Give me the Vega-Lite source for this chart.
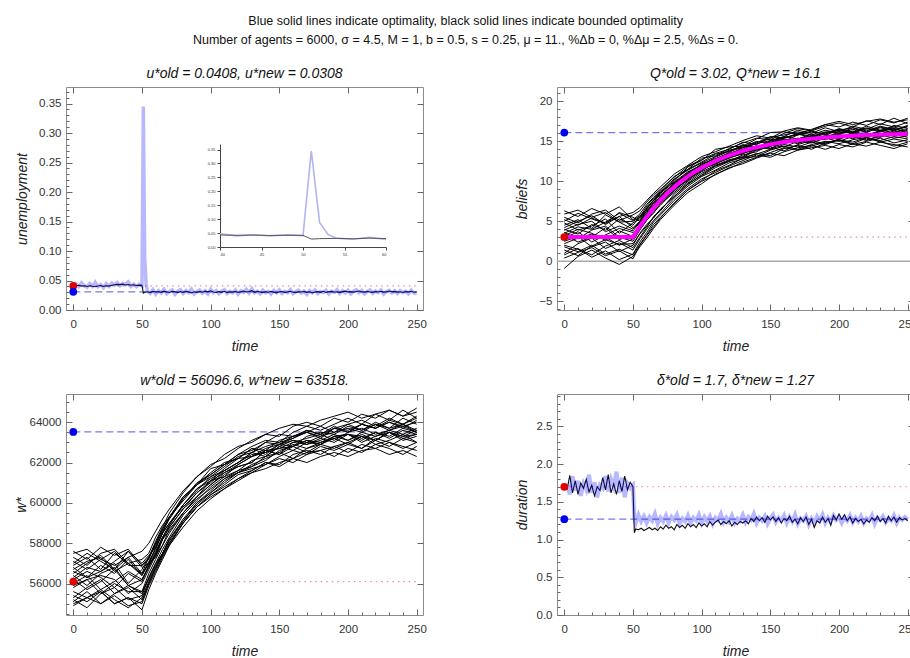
{
"$schema":"https://vega.github.io/schema/vega-lite/v6.json",
"background":"white",
"padding":{"left":13,"top":14,"right":0,"bottom":0},
"title":{"text":["Blue solid lines indicate optimality, black solid lines indicate bounded optimality","Number of agents = 6000, σ = 4.5, M = 1, b = 0.5, s = 0.25, μ = 11., %Δb = 0, %Δμ = 2.5, %Δs = 0."],"fontSize":12.5,"fontStyle":"normal","fontWeight":"normal","lineHeight":19,"offset":20,"anchor":"middle","color":"#111"},
"datasets":{
"r1":[{"k":"old","v":0.0408,"a":0,"b":250},{"k":"new","v":0.0308,"a":0,"b":250}],
"r2":[{"k":"old","v":3.02,"a":0,"b":250},{"k":"new","v":16.1,"a":0,"b":250}],
"r3":[{"k":"old","v":56096.6,"a":0,"b":250},{"k":"new","v":63518,"a":0,"b":250}],
"r4":[{"k":"old","v":1.7,"a":0,"b":250},{"k":"new","v":1.27,"a":0,"b":250}],
"z":[{"v":0}],
"ub":[{"t":0,"v":0.0415},{"t":2,"v":0.041},{"t":4,"v":0.042},{"t":6,"v":0.0405},{"t":8,"v":0.0412},{"t":10,"v":0.0398},{"t":12,"v":0.041},{"t":14,"v":0.0402},{"t":16,"v":0.0395},{"t":18,"v":0.0408},{"t":20,"v":0.0415},{"t":22,"v":0.04},{"t":24,"v":0.041},{"t":26,"v":0.0405},{"t":28,"v":0.042},{"t":30,"v":0.0428},{"t":32,"v":0.0435},{"t":34,"v":0.043},{"t":36,"v":0.0438},{"t":38,"v":0.0425},{"t":40,"v":0.0432},{"t":42,"v":0.042},{"t":44,"v":0.0428},{"t":46,"v":0.0415},{"t":48,"v":0.0422},{"t":50,"v":0.0418},{"t":51,"v":0.0285},{"t":52,"v":0.03},{"t":54,"v":0.031},{"t":56,"v":0.0295},{"t":58,"v":0.0318},{"t":60,"v":0.0305},{"t":62,"v":0.0312},{"t":64,"v":0.03},{"t":66,"v":0.032},{"t":68,"v":0.0305},{"t":70,"v":0.0298},{"t":72,"v":0.0315},{"t":74,"v":0.0308},{"t":76,"v":0.0295},{"t":78,"v":0.0312},{"t":80,"v":0.03},{"t":82,"v":0.0318},{"t":84,"v":0.0305},{"t":86,"v":0.029},{"t":88,"v":0.031},{"t":90,"v":0.0298},{"t":92,"v":0.0315},{"t":94,"v":0.0302},{"t":96,"v":0.032},{"t":98,"v":0.0308},{"t":100,"v":0.0325},{"t":102,"v":0.0305},{"t":104,"v":0.0298},{"t":106,"v":0.0312},{"t":108,"v":0.03},{"t":110,"v":0.0318},{"t":112,"v":0.0295},{"t":114,"v":0.0308},{"t":116,"v":0.0302},{"t":118,"v":0.0315},{"t":120,"v":0.0298},{"t":122,"v":0.031},{"t":124,"v":0.0322},{"t":126,"v":0.0305},{"t":128,"v":0.0312},{"t":130,"v":0.033},{"t":132,"v":0.03},{"t":134,"v":0.0315},{"t":136,"v":0.0305},{"t":138,"v":0.0295},{"t":140,"v":0.031},{"t":142,"v":0.03},{"t":144,"v":0.0316},{"t":146,"v":0.0302},{"t":148,"v":0.029},{"t":150,"v":0.0308},{"t":152,"v":0.0312},{"t":154,"v":0.0298},{"t":156,"v":0.0305},{"t":158,"v":0.0318},{"t":160,"v":0.03},{"t":162,"v":0.0292},{"t":164,"v":0.031},{"t":166,"v":0.0305},{"t":168,"v":0.0315},{"t":170,"v":0.0298},{"t":172,"v":0.0308},{"t":174,"v":0.029},{"t":176,"v":0.0305},{"t":178,"v":0.0312},{"t":180,"v":0.03},{"t":182,"v":0.0318},{"t":184,"v":0.0296},{"t":186,"v":0.0308},{"t":188,"v":0.0315},{"t":190,"v":0.0302},{"t":192,"v":0.031},{"t":194,"v":0.0295},{"t":196,"v":0.0312},{"t":198,"v":0.032},{"t":200,"v":0.0305},{"t":202,"v":0.0312},{"t":204,"v":0.03},{"t":206,"v":0.0315},{"t":208,"v":0.0322},{"t":210,"v":0.0308},{"t":212,"v":0.03},{"t":214,"v":0.0316},{"t":216,"v":0.0305},{"t":218,"v":0.0298},{"t":220,"v":0.0312},{"t":222,"v":0.0305},{"t":224,"v":0.0318},{"t":226,"v":0.03},{"t":228,"v":0.031},{"t":230,"v":0.0322},{"t":232,"v":0.0308},{"t":234,"v":0.0315},{"t":236,"v":0.0302},{"t":238,"v":0.031},{"t":240,"v":0.0298},{"t":242,"v":0.0312},{"t":244,"v":0.0305},{"t":246,"v":0.0318},{"t":248,"v":0.03},{"t":250,"v":0.0308}],
"uo":[{"t":0,"v":0.042},{"t":2,"v":0.044},{"t":4,"v":0.0395},{"t":6,"v":0.046},{"t":8,"v":0.041},{"t":10,"v":0.0385},{"t":12,"v":0.045},{"t":14,"v":0.04},{"t":16,"v":0.047},{"t":18,"v":0.0395},{"t":20,"v":0.043},{"t":22,"v":0.038},{"t":24,"v":0.0445},{"t":26,"v":0.04},{"t":28,"v":0.0455},{"t":30,"v":0.042},{"t":32,"v":0.0465},{"t":34,"v":0.041},{"t":36,"v":0.045},{"t":38,"v":0.043},{"t":40,"v":0.0475},{"t":42,"v":0.04},{"t":44,"v":0.044},{"t":46,"v":0.0395},{"t":48,"v":0.0435},{"t":50,"v":0.041},{"t":51,"v":0.345},{"t":52,"v":0.088},{"t":53,"v":0.045},{"t":54,"v":0.032},{"t":56,"v":0.028},{"t":58,"v":0.0345},{"t":60,"v":0.027},{"t":62,"v":0.033},{"t":64,"v":0.029},{"t":66,"v":0.035},{"t":68,"v":0.0275},{"t":70,"v":0.032},{"t":72,"v":0.034},{"t":74,"v":0.0265},{"t":76,"v":0.0315},{"t":78,"v":0.0345},{"t":80,"v":0.028},{"t":82,"v":0.033},{"t":84,"v":0.0295},{"t":86,"v":0.0355},{"t":88,"v":0.027},{"t":90,"v":0.031},{"t":92,"v":0.034},{"t":94,"v":0.0285},{"t":96,"v":0.0325},{"t":98,"v":0.027},{"t":100,"v":0.035},{"t":102,"v":0.0295},{"t":104,"v":0.033},{"t":106,"v":0.0275},{"t":108,"v":0.032},{"t":110,"v":0.0345},{"t":112,"v":0.028},{"t":114,"v":0.0315},{"t":116,"v":0.029},{"t":118,"v":0.034},{"t":120,"v":0.027},{"t":122,"v":0.0325},{"t":124,"v":0.03},{"t":126,"v":0.035},{"t":128,"v":0.0285},{"t":130,"v":0.036},{"t":132,"v":0.029},{"t":134,"v":0.032},{"t":136,"v":0.0275},{"t":138,"v":0.0335},{"t":140,"v":0.029},{"t":142,"v":0.0315},{"t":144,"v":0.027},{"t":146,"v":0.033},{"t":148,"v":0.0295},{"t":150,"v":0.034},{"t":152,"v":0.028},{"t":154,"v":0.0315},{"t":156,"v":0.029},{"t":158,"v":0.0345},{"t":160,"v":0.0275},{"t":162,"v":0.031},{"t":164,"v":0.0335},{"t":166,"v":0.0285},{"t":168,"v":0.032},{"t":170,"v":0.0265},{"t":172,"v":0.033},{"t":174,"v":0.0295},{"t":176,"v":0.034},{"t":178,"v":0.028},{"t":180,"v":0.0315},{"t":182,"v":0.0295},{"t":184,"v":0.0335},{"t":186,"v":0.027},{"t":188,"v":0.032},{"t":190,"v":0.03},{"t":192,"v":0.0345},{"t":194,"v":0.028},{"t":196,"v":0.0325},{"t":198,"v":0.029},{"t":200,"v":0.0335},{"t":202,"v":0.0275},{"t":204,"v":0.032},{"t":206,"v":0.0345},{"t":208,"v":0.029},{"t":210,"v":0.033},{"t":212,"v":0.0275},{"t":214,"v":0.0315},{"t":216,"v":0.034},{"t":218,"v":0.0285},{"t":220,"v":0.0325},{"t":222,"v":0.0295},{"t":224,"v":0.034},{"t":226,"v":0.027},{"t":228,"v":0.0315},{"t":230,"v":0.0335},{"t":232,"v":0.029},{"t":234,"v":0.0325},{"t":236,"v":0.028},{"t":238,"v":0.033},{"t":240,"v":0.0295},{"t":242,"v":0.032},{"t":244,"v":0.0275},{"t":246,"v":0.0335},{"t":248,"v":0.029},{"t":250,"v":0.028}],
"bm":[{"t":0,"v":3.02},{"t":50,"v":3.02},{"t":55,"v":4.37},{"t":60,"v":5.58},{"t":65,"v":6.67},{"t":70,"v":7.64},{"t":75,"v":8.51},{"t":80,"v":9.3},{"t":85,"v":10.0},{"t":90,"v":10.63},{"t":95,"v":11.19},{"t":100,"v":11.7},{"t":110,"v":12.56},{"t":120,"v":13.25},{"t":130,"v":13.81},{"t":140,"v":14.26},{"t":150,"v":14.62},{"t":160,"v":14.91},{"t":170,"v":15.14},{"t":180,"v":15.33},{"t":190,"v":15.48},{"t":200,"v":15.6},{"t":210,"v":15.7},{"t":220,"v":15.78},{"t":230,"v":15.84},{"t":240,"v":15.89},{"t":250,"v":15.93}],
"bl":[
{"k":1,"t":0,"v":4.5},{"k":1,"t":10,"v":5.2},{"k":1,"t":20,"v":4.1},{"k":1,"t":30,"v":5.8},{"k":1,"t":40,"v":4.9},{"k":1,"t":50,"v":4.0},{"k":1,"t":55,"v":4.9},{"k":1,"t":60,"v":6.4},{"k":1,"t":65,"v":7.3},{"k":1,"t":70,"v":8.6},{"k":1,"t":80,"v":10.0},{"k":1,"t":90,"v":11.8},{"k":1,"t":100,"v":12.6},{"k":1,"t":110,"v":14.0},{"k":1,"t":120,"v":14.3},{"k":1,"t":130,"v":14.4},{"k":1,"t":140,"v":15.3},{"k":1,"t":150,"v":16.1},{"k":1,"t":160,"v":16.2},{"k":1,"t":170,"v":15.9},{"k":1,"t":180,"v":16.5},{"k":1,"t":190,"v":17.1},{"k":1,"t":200,"v":17.5},{"k":1,"t":210,"v":17.1},{"k":1,"t":220,"v":17.5},{"k":1,"t":230,"v":17.8},{"k":1,"t":240,"v":17.4},{"k":1,"t":250,"v":17.7},
{"k":2,"t":0,"v":1.8},{"k":2,"t":10,"v":1.2},{"k":2,"t":20,"v":2.0},{"k":2,"t":30,"v":0.9},{"k":2,"t":40,"v":1.5},{"k":2,"t":50,"v":0.8},{"k":2,"t":55,"v":2.1},{"k":2,"t":60,"v":3.3},{"k":2,"t":65,"v":4.6},{"k":2,"t":70,"v":5.5},{"k":2,"t":80,"v":7.2},{"k":2,"t":90,"v":8.9},{"k":2,"t":100,"v":10.1},{"k":2,"t":110,"v":11.3},{"k":2,"t":120,"v":12.0},{"k":2,"t":130,"v":12.9},{"k":2,"t":140,"v":13.1},{"k":2,"t":150,"v":13.9},{"k":2,"t":160,"v":14.4},{"k":2,"t":170,"v":14.0},{"k":2,"t":180,"v":14.6},{"k":2,"t":190,"v":15.0},{"k":2,"t":200,"v":14.7},{"k":2,"t":210,"v":15.2},{"k":2,"t":220,"v":15.5},{"k":2,"t":230,"v":14.9},{"k":2,"t":240,"v":15.3},{"k":2,"t":250,"v":15.0},
{"k":3,"t":0,"v":3.2},{"k":3,"t":10,"v":4.0},{"k":3,"t":20,"v":3.5},{"k":3,"t":30,"v":2.6},{"k":3,"t":40,"v":3.8},{"k":3,"t":50,"v":3.1},{"k":3,"t":55,"v":4.6},{"k":3,"t":60,"v":5.9},{"k":3,"t":65,"v":7.0},{"k":3,"t":70,"v":8.1},{"k":3,"t":80,"v":9.8},{"k":3,"t":90,"v":10.9},{"k":3,"t":100,"v":12.2},{"k":3,"t":110,"v":12.8},{"k":3,"t":120,"v":13.6},{"k":3,"t":130,"v":14.5},{"k":3,"t":140,"v":14.1},{"k":3,"t":150,"v":15.0},{"k":3,"t":160,"v":15.6},{"k":3,"t":170,"v":15.3},{"k":3,"t":180,"v":15.9},{"k":3,"t":190,"v":15.4},{"k":3,"t":200,"v":16.2},{"k":3,"t":210,"v":16.0},{"k":3,"t":220,"v":15.6},{"k":3,"t":230,"v":16.4},{"k":3,"t":240,"v":16.1},{"k":3,"t":250,"v":16.5},
{"k":4,"t":0,"v":6.3},{"k":4,"t":10,"v":5.6},{"k":4,"t":20,"v":6.6},{"k":4,"t":30,"v":5.9},{"k":4,"t":40,"v":6.8},{"k":4,"t":50,"v":5.2},{"k":4,"t":55,"v":5.9},{"k":4,"t":60,"v":7.1},{"k":4,"t":65,"v":8.0},{"k":4,"t":70,"v":8.9},{"k":4,"t":80,"v":10.6},{"k":4,"t":90,"v":11.5},{"k":4,"t":100,"v":12.9},{"k":4,"t":110,"v":13.2},{"k":4,"t":120,"v":14.1},{"k":4,"t":130,"v":14.8},{"k":4,"t":140,"v":15.4},{"k":4,"t":150,"v":15.2},{"k":4,"t":160,"v":16.0},{"k":4,"t":170,"v":16.6},{"k":4,"t":180,"v":16.3},{"k":4,"t":190,"v":16.9},{"k":4,"t":200,"v":17.3},{"k":4,"t":210,"v":16.8},{"k":4,"t":220,"v":17.6},{"k":4,"t":230,"v":17.1},{"k":4,"t":240,"v":17.9},{"k":4,"t":250,"v":17.2},
{"k":5,"t":0,"v":2.5},{"k":5,"t":10,"v":3.1},{"k":5,"t":20,"v":1.8},{"k":5,"t":30,"v":2.4},{"k":5,"t":40,"v":1.2},{"k":5,"t":50,"v":2.0},{"k":5,"t":55,"v":3.5},{"k":5,"t":60,"v":4.6},{"k":5,"t":65,"v":5.4},{"k":5,"t":70,"v":6.5},{"k":5,"t":80,"v":8.1},{"k":5,"t":90,"v":9.6},{"k":5,"t":100,"v":10.8},{"k":5,"t":110,"v":11.9},{"k":5,"t":120,"v":12.6},{"k":5,"t":130,"v":13.0},{"k":5,"t":140,"v":13.9},{"k":5,"t":150,"v":14.3},{"k":5,"t":160,"v":13.8},{"k":5,"t":170,"v":14.6},{"k":5,"t":180,"v":15.1},{"k":5,"t":190,"v":14.7},{"k":5,"t":200,"v":15.3},{"k":5,"t":210,"v":15.8},{"k":5,"t":220,"v":15.2},{"k":5,"t":230,"v":15.6},{"k":5,"t":240,"v":16.0},{"k":5,"t":250,"v":15.5},
{"k":6,"t":0,"v":4.0},{"k":6,"t":10,"v":3.4},{"k":6,"t":20,"v":4.6},{"k":6,"t":30,"v":3.9},{"k":6,"t":40,"v":5.3},{"k":6,"t":50,"v":4.5},{"k":6,"t":55,"v":5.6},{"k":6,"t":60,"v":6.2},{"k":6,"t":65,"v":7.4},{"k":6,"t":70,"v":8.0},{"k":6,"t":80,"v":9.5},{"k":6,"t":90,"v":10.4},{"k":6,"t":100,"v":11.4},{"k":6,"t":110,"v":12.3},{"k":6,"t":120,"v":12.9},{"k":6,"t":130,"v":13.5},{"k":6,"t":140,"v":14.0},{"k":6,"t":150,"v":14.8},{"k":6,"t":160,"v":15.2},{"k":6,"t":170,"v":14.7},{"k":6,"t":180,"v":15.5},{"k":6,"t":190,"v":15.9},{"k":6,"t":200,"v":15.4},{"k":6,"t":210,"v":16.1},{"k":6,"t":220,"v":15.7},{"k":6,"t":230,"v":16.3},{"k":6,"t":240,"v":15.8},{"k":6,"t":250,"v":16.2},
{"k":7,"t":0,"v":-0.9},{"k":7,"t":10,"v":0.6},{"k":7,"t":20,"v":1.4},{"k":7,"t":30,"v":0.4},{"k":7,"t":40,"v":-0.4},{"k":7,"t":50,"v":0.6},{"k":7,"t":55,"v":1.8},{"k":7,"t":60,"v":2.9},{"k":7,"t":65,"v":4.1},{"k":7,"t":70,"v":5.2},{"k":7,"t":80,"v":7.0},{"k":7,"t":90,"v":8.6},{"k":7,"t":100,"v":9.7},{"k":7,"t":110,"v":10.9},{"k":7,"t":120,"v":11.6},{"k":7,"t":130,"v":12.4},{"k":7,"t":140,"v":13.0},{"k":7,"t":150,"v":13.6},{"k":7,"t":160,"v":14.2},{"k":7,"t":170,"v":13.9},{"k":7,"t":180,"v":14.4},{"k":7,"t":190,"v":14.9},{"k":7,"t":200,"v":15.1},{"k":7,"t":210,"v":14.6},{"k":7,"t":220,"v":15.0},{"k":7,"t":230,"v":15.4},{"k":7,"t":240,"v":14.8},{"k":7,"t":250,"v":15.2},
{"k":8,"t":0,"v":3.6},{"k":8,"t":10,"v":2.8},{"k":8,"t":20,"v":3.9},{"k":8,"t":30,"v":4.4},{"k":8,"t":40,"v":3.0},{"k":8,"t":50,"v":2.5},{"k":8,"t":55,"v":3.9},{"k":8,"t":60,"v":5.1},{"k":8,"t":65,"v":6.2},{"k":8,"t":70,"v":7.0},{"k":8,"t":80,"v":8.8},{"k":8,"t":90,"v":10.2},{"k":8,"t":100,"v":11.3},{"k":8,"t":110,"v":12.4},{"k":8,"t":120,"v":13.0},{"k":8,"t":130,"v":13.4},{"k":8,"t":140,"v":14.5},{"k":8,"t":150,"v":14.1},{"k":8,"t":160,"v":14.9},{"k":8,"t":170,"v":15.4},{"k":8,"t":180,"v":15.0},{"k":8,"t":190,"v":15.7},{"k":8,"t":200,"v":15.9},{"k":8,"t":210,"v":15.3},{"k":8,"t":220,"v":16.0},{"k":8,"t":230,"v":15.6},{"k":8,"t":240,"v":16.3},{"k":8,"t":250,"v":15.9},
{"k":9,"t":0,"v":5.5},{"k":9,"t":10,"v":4.8},{"k":9,"t":20,"v":5.9},{"k":9,"t":30,"v":6.4},{"k":9,"t":40,"v":5.1},{"k":9,"t":50,"v":5.8},{"k":9,"t":55,"v":6.3},{"k":9,"t":60,"v":7.4},{"k":9,"t":65,"v":8.3},{"k":9,"t":70,"v":9.0},{"k":9,"t":80,"v":10.5},{"k":9,"t":90,"v":11.9},{"k":9,"t":100,"v":12.7},{"k":9,"t":110,"v":13.5},{"k":9,"t":120,"v":14.0},{"k":9,"t":130,"v":14.9},{"k":9,"t":140,"v":14.6},{"k":9,"t":150,"v":15.5},{"k":9,"t":160,"v":15.8},{"k":9,"t":170,"v":16.2},{"k":9,"t":180,"v":15.8},{"k":9,"t":190,"v":16.4},{"k":9,"t":200,"v":16.0},{"k":9,"t":210,"v":16.7},{"k":9,"t":220,"v":16.3},{"k":9,"t":230,"v":16.9},{"k":9,"t":240,"v":16.5},{"k":9,"t":250,"v":16.8},
{"k":10,"t":0,"v":1.0},{"k":10,"t":10,"v":2.2},{"k":10,"t":20,"v":2.9},{"k":10,"t":30,"v":1.6},{"k":10,"t":40,"v":2.3},{"k":10,"t":50,"v":1.4},{"k":10,"t":55,"v":2.8},{"k":10,"t":60,"v":4.0},{"k":10,"t":65,"v":5.1},{"k":10,"t":70,"v":6.0},{"k":10,"t":80,"v":7.9},{"k":10,"t":90,"v":9.4},{"k":10,"t":100,"v":10.6},{"k":10,"t":110,"v":11.4},{"k":10,"t":120,"v":12.3},{"k":10,"t":130,"v":12.8},{"k":10,"t":140,"v":13.5},{"k":10,"t":150,"v":13.2},{"k":10,"t":160,"v":14.1},{"k":10,"t":170,"v":14.5},{"k":10,"t":180,"v":14.0},{"k":10,"t":190,"v":14.8},{"k":10,"t":200,"v":15.2},{"k":10,"t":210,"v":14.7},{"k":10,"t":220,"v":15.4},{"k":10,"t":230,"v":15.0},{"k":10,"t":240,"v":14.4},{"k":10,"t":250,"v":14.9},
{"k":11,"t":0,"v":2.9},{"k":11,"t":10,"v":3.7},{"k":11,"t":20,"v":2.4},{"k":11,"t":30,"v":3.3},{"k":11,"t":40,"v":4.1},{"k":11,"t":50,"v":3.6},{"k":11,"t":55,"v":4.2},{"k":11,"t":60,"v":5.5},{"k":11,"t":65,"v":6.5},{"k":11,"t":70,"v":7.4},{"k":11,"t":80,"v":9.1},{"k":11,"t":90,"v":10.1},{"k":11,"t":100,"v":11.6},{"k":11,"t":110,"v":12.1},{"k":11,"t":120,"v":13.1},{"k":11,"t":130,"v":13.9},{"k":11,"t":140,"v":14.4},{"k":11,"t":150,"v":14.0},{"k":11,"t":160,"v":15.0},{"k":11,"t":170,"v":15.3},{"k":11,"t":180,"v":15.7},{"k":11,"t":190,"v":15.2},{"k":11,"t":200,"v":15.9},{"k":11,"t":210,"v":16.3},{"k":11,"t":220,"v":15.8},{"k":11,"t":230,"v":16.2},{"k":11,"t":240,"v":16.6},{"k":11,"t":250,"v":16.0},
{"k":12,"t":0,"v":5.0},{"k":12,"t":10,"v":6.0},{"k":12,"t":20,"v":5.3},{"k":12,"t":30,"v":4.7},{"k":12,"t":40,"v":6.1},{"k":12,"t":50,"v":5.5},{"k":12,"t":55,"v":5.0},{"k":12,"t":60,"v":6.7},{"k":12,"t":65,"v":7.6},{"k":12,"t":70,"v":8.5},{"k":12,"t":80,"v":9.9},{"k":12,"t":90,"v":11.2},{"k":12,"t":100,"v":12.0},{"k":12,"t":110,"v":13.0},{"k":12,"t":120,"v":13.8},{"k":12,"t":130,"v":14.2},{"k":12,"t":140,"v":14.9},{"k":12,"t":150,"v":15.3},{"k":12,"t":160,"v":15.0},{"k":12,"t":170,"v":15.8},{"k":12,"t":180,"v":16.2},{"k":12,"t":190,"v":15.9},{"k":12,"t":200,"v":16.6},{"k":12,"t":210,"v":16.2},{"k":12,"t":220,"v":16.9},{"k":12,"t":230,"v":16.4},{"k":12,"t":240,"v":16.8},{"k":12,"t":250,"v":16.3},
{"k":13,"t":0,"v":2.0},{"k":13,"t":10,"v":1.5},{"k":13,"t":20,"v":0.8},{"k":13,"t":30,"v":1.9},{"k":13,"t":40,"v":2.6},{"k":13,"t":50,"v":1.7},{"k":13,"t":55,"v":3.0},{"k":13,"t":60,"v":4.2},{"k":13,"t":65,"v":5.6},{"k":13,"t":70,"v":6.3},{"k":13,"t":80,"v":8.4},{"k":13,"t":90,"v":9.8},{"k":13,"t":100,"v":11.0},{"k":13,"t":110,"v":11.9},{"k":13,"t":120,"v":12.5},{"k":13,"t":130,"v":13.3},{"k":13,"t":140,"v":13.7},{"k":13,"t":150,"v":14.6},{"k":13,"t":160,"v":14.3},{"k":13,"t":170,"v":15.0},{"k":13,"t":180,"v":14.8},{"k":13,"t":190,"v":15.4},{"k":13,"t":200,"v":15.0},{"k":13,"t":210,"v":15.6},{"k":13,"t":220,"v":15.1},{"k":13,"t":230,"v":15.8},{"k":13,"t":240,"v":15.4},{"k":13,"t":250,"v":15.7},
{"k":14,"t":0,"v":3.9},{"k":14,"t":10,"v":4.6},{"k":14,"t":20,"v":5.0},{"k":14,"t":30,"v":3.7},{"k":14,"t":40,"v":4.4},{"k":14,"t":50,"v":3.8},{"k":14,"t":55,"v":4.8},{"k":14,"t":60,"v":6.0},{"k":14,"t":65,"v":6.9},{"k":14,"t":70,"v":8.2},{"k":14,"t":80,"v":9.6},{"k":14,"t":90,"v":11.0},{"k":14,"t":100,"v":11.9},{"k":14,"t":110,"v":12.8},{"k":14,"t":120,"v":13.5},{"k":14,"t":130,"v":14.0},{"k":14,"t":140,"v":14.8},{"k":14,"t":150,"v":15.6},{"k":14,"t":160,"v":15.4},{"k":14,"t":170,"v":16.0},{"k":14,"t":180,"v":15.6},{"k":14,"t":190,"v":16.1},{"k":14,"t":200,"v":16.5},{"k":14,"t":210,"v":16.0},{"k":14,"t":220,"v":16.6},{"k":14,"t":230,"v":16.2},{"k":14,"t":240,"v":17.0},{"k":14,"t":250,"v":16.6},
{"k":15,"t":0,"v":0.8},{"k":15,"t":10,"v":1.6},{"k":15,"t":20,"v":0.5},{"k":15,"t":30,"v":1.3},{"k":15,"t":40,"v":0.2},{"k":15,"t":50,"v":0.9},{"k":15,"t":55,"v":2.4},{"k":15,"t":60,"v":3.6},{"k":15,"t":65,"v":4.9},{"k":15,"t":70,"v":5.8},{"k":15,"t":80,"v":7.6},{"k":15,"t":90,"v":9.1},{"k":15,"t":100,"v":10.3},{"k":15,"t":110,"v":11.1},{"k":15,"t":120,"v":11.9},{"k":15,"t":130,"v":12.6},{"k":15,"t":140,"v":13.3},{"k":15,"t":150,"v":13.0},{"k":15,"t":160,"v":13.7},{"k":15,"t":170,"v":14.2},{"k":15,"t":180,"v":14.5},{"k":15,"t":190,"v":14.0},{"k":15,"t":200,"v":14.6},{"k":15,"t":210,"v":14.3},{"k":15,"t":220,"v":14.9},{"k":15,"t":230,"v":14.5},{"k":15,"t":240,"v":14.1},{"k":15,"t":250,"v":14.7},
{"k":16,"t":0,"v":4.8},{"k":16,"t":10,"v":3.9},{"k":16,"t":20,"v":4.4},{"k":16,"t":30,"v":5.3},{"k":16,"t":40,"v":3.5},{"k":16,"t":50,"v":4.8},{"k":16,"t":55,"v":5.3},{"k":16,"t":60,"v":6.6},{"k":16,"t":65,"v":7.7},{"k":16,"t":70,"v":8.6},{"k":16,"t":80,"v":10.2},{"k":16,"t":90,"v":11.5},{"k":16,"t":100,"v":12.4},{"k":16,"t":110,"v":13.4},{"k":16,"t":120,"v":13.7},{"k":16,"t":130,"v":14.6},{"k":16,"t":140,"v":14.2},{"k":16,"t":150,"v":15.1},{"k":16,"t":160,"v":15.6},{"k":16,"t":170,"v":16.4},{"k":16,"t":180,"v":16.0},{"k":16,"t":190,"v":16.7},{"k":16,"t":200,"v":16.2},{"k":16,"t":210,"v":16.9},{"k":16,"t":220,"v":16.5},{"k":16,"t":230,"v":17.2},{"k":16,"t":240,"v":16.8},{"k":16,"t":250,"v":17.4},
{"k":17,"t":0,"v":3.3},{"k":17,"t":10,"v":2.4},{"k":17,"t":20,"v":3.0},{"k":17,"t":30,"v":4.2},{"k":17,"t":40,"v":2.7},{"k":17,"t":50,"v":3.3},{"k":17,"t":55,"v":4.5},{"k":17,"t":60,"v":5.4},{"k":17,"t":65,"v":6.4},{"k":17,"t":70,"v":7.3},{"k":17,"t":80,"v":8.9},{"k":17,"t":90,"v":10.3},{"k":17,"t":100,"v":11.5},{"k":17,"t":110,"v":12.2},{"k":17,"t":120,"v":12.9},{"k":17,"t":130,"v":13.6},{"k":17,"t":140,"v":13.9},{"k":17,"t":150,"v":14.4},{"k":17,"t":160,"v":15.0},{"k":17,"t":170,"v":14.8},{"k":17,"t":180,"v":15.2},{"k":17,"t":190,"v":15.7},{"k":17,"t":200,"v":15.3},{"k":17,"t":210,"v":15.9},{"k":17,"t":220,"v":15.5},{"k":17,"t":230,"v":16.0},{"k":17,"t":240,"v":15.7},{"k":17,"t":250,"v":16.1},
{"k":18,"t":0,"v":5.9},{"k":18,"t":10,"v":6.4},{"k":18,"t":20,"v":5.5},{"k":18,"t":30,"v":6.1},{"k":18,"t":40,"v":4.9},{"k":18,"t":50,"v":5.0},{"k":18,"t":55,"v":5.5},{"k":18,"t":60,"v":6.9},{"k":18,"t":65,"v":7.9},{"k":18,"t":70,"v":8.7},{"k":18,"t":80,"v":10.3},{"k":18,"t":90,"v":11.4},{"k":18,"t":100,"v":12.3},{"k":18,"t":110,"v":13.1},{"k":18,"t":120,"v":13.9},{"k":18,"t":130,"v":14.3},{"k":18,"t":140,"v":15.0},{"k":18,"t":150,"v":14.8},{"k":18,"t":160,"v":15.5},{"k":18,"t":170,"v":15.8},{"k":18,"t":180,"v":16.3},{"k":18,"t":190,"v":15.8},{"k":18,"t":200,"v":16.4},{"k":18,"t":210,"v":16.7},{"k":18,"t":220,"v":16.1},{"k":18,"t":230,"v":16.8},{"k":18,"t":240,"v":16.4},{"k":18,"t":250,"v":17.0},
{"k":19,"t":0,"v":1.4},{"k":19,"t":10,"v":0.7},{"k":19,"t":20,"v":1.9},{"k":19,"t":30,"v":2.7},{"k":19,"t":40,"v":2.1},{"k":19,"t":50,"v":2.2},{"k":19,"t":55,"v":3.4},{"k":19,"t":60,"v":4.4},{"k":19,"t":65,"v":5.5},{"k":19,"t":70,"v":6.5},{"k":19,"t":80,"v":8.1},{"k":19,"t":90,"v":9.7},{"k":19,"t":100,"v":10.7},{"k":19,"t":110,"v":11.7},{"k":19,"t":120,"v":12.5},{"k":19,"t":130,"v":13.0},{"k":19,"t":140,"v":13.4},{"k":19,"t":150,"v":14.0},{"k":19,"t":160,"v":14.6},{"k":19,"t":170,"v":14.3},{"k":19,"t":180,"v":14.9},{"k":19,"t":190,"v":14.6},{"k":19,"t":200,"v":15.2},{"k":19,"t":210,"v":14.9},{"k":19,"t":220,"v":15.5},{"k":19,"t":230,"v":15.1},{"k":19,"t":240,"v":15.6},{"k":19,"t":250,"v":15.3},
{"k":20,"t":0,"v":4.2},{"k":20,"t":10,"v":5.0},{"k":20,"t":20,"v":5.7},{"k":20,"t":30,"v":4.6},{"k":20,"t":40,"v":5.6},{"k":20,"t":50,"v":4.2},{"k":20,"t":55,"v":5.0},{"k":20,"t":60,"v":6.1},{"k":20,"t":65,"v":7.2},{"k":20,"t":70,"v":8.1},{"k":20,"t":80,"v":9.8},{"k":20,"t":90,"v":11.1},{"k":20,"t":100,"v":12.1},{"k":20,"t":110,"v":12.8},{"k":20,"t":120,"v":13.4},{"k":20,"t":130,"v":14.2},{"k":20,"t":140,"v":14.7},{"k":20,"t":150,"v":15.1},{"k":20,"t":160,"v":15.4},{"k":20,"t":170,"v":15.9},{"k":20,"t":180,"v":15.5},{"k":20,"t":190,"v":16.2},{"k":20,"t":200,"v":16.0},{"k":20,"t":210,"v":16.5},{"k":20,"t":220,"v":16.2},{"k":20,"t":230,"v":16.7},{"k":20,"t":240,"v":16.3},{"k":20,"t":250,"v":16.9},
{"k":21,"t":0,"v":2.2},{"k":21,"t":10,"v":2.9},{"k":21,"t":20,"v":3.4},{"k":21,"t":30,"v":3.0},{"k":21,"t":40,"v":2.0},{"k":21,"t":50,"v":2.8},{"k":21,"t":55,"v":4.0},{"k":21,"t":60,"v":5.2},{"k":21,"t":65,"v":6.0},{"k":21,"t":70,"v":7.2},{"k":21,"t":80,"v":8.6},{"k":21,"t":90,"v":10.0},{"k":21,"t":100,"v":11.2},{"k":21,"t":110,"v":12.0},{"k":21,"t":120,"v":12.7},{"k":21,"t":130,"v":13.1},{"k":21,"t":140,"v":14.1},{"k":21,"t":150,"v":14.4},{"k":21,"t":160,"v":14.7},{"k":21,"t":170,"v":15.2},{"k":21,"t":180,"v":15.0},{"k":21,"t":190,"v":15.6},{"k":21,"t":200,"v":15.8},{"k":21,"t":210,"v":15.4},{"k":21,"t":220,"v":15.9},{"k":21,"t":230,"v":15.5},{"k":21,"t":240,"v":16.1},{"k":21,"t":250,"v":15.8},
{"k":22,"t":0,"v":3.5},{"k":22,"t":10,"v":4.3},{"k":22,"t":20,"v":4.0},{"k":22,"t":30,"v":4.9},{"k":22,"t":40,"v":6.0},{"k":22,"t":50,"v":5.1},{"k":22,"t":55,"v":5.7},{"k":22,"t":60,"v":6.5},{"k":22,"t":65,"v":7.6},{"k":22,"t":70,"v":8.3},{"k":22,"t":80,"v":9.7},{"k":22,"t":90,"v":10.8},{"k":22,"t":100,"v":11.8},{"k":22,"t":110,"v":12.7},{"k":22,"t":120,"v":13.3},{"k":22,"t":130,"v":14.0},{"k":22,"t":140,"v":14.2},{"k":22,"t":150,"v":14.9},{"k":22,"t":160,"v":15.3},{"k":22,"t":170,"v":15.1},{"k":22,"t":180,"v":15.7},{"k":22,"t":190,"v":16.0},{"k":22,"t":200,"v":16.4},{"k":22,"t":210,"v":16.1},{"k":22,"t":220,"v":16.7},{"k":22,"t":230,"v":16.3},{"k":22,"t":240,"v":16.6},{"k":22,"t":250,"v":16.1},
{"k":23,"t":0,"v":0.4},{"k":23,"t":10,"v":1.1},{"k":23,"t":20,"v":1.7},{"k":23,"t":30,"v":0.7},{"k":23,"t":40,"v":1.3},{"k":23,"t":50,"v":0.3},{"k":23,"t":55,"v":2.0},{"k":23,"t":60,"v":3.2},{"k":23,"t":65,"v":4.3},{"k":23,"t":70,"v":5.4},{"k":23,"t":80,"v":7.3},{"k":23,"t":90,"v":8.9},{"k":23,"t":100,"v":10.0},{"k":23,"t":110,"v":10.8},{"k":23,"t":120,"v":11.7},{"k":23,"t":130,"v":12.2},{"k":23,"t":140,"v":12.9},{"k":23,"t":150,"v":13.5},{"k":23,"t":160,"v":13.2},{"k":23,"t":170,"v":13.9},{"k":23,"t":180,"v":14.2},{"k":23,"t":190,"v":14.5},{"k":23,"t":200,"v":14.1},{"k":23,"t":210,"v":14.7},{"k":23,"t":220,"v":14.4},{"k":23,"t":230,"v":14.9},{"k":23,"t":240,"v":14.6},{"k":23,"t":250,"v":14.3},
{"k":24,"t":0,"v":5.2},{"k":24,"t":10,"v":4.5},{"k":24,"t":20,"v":5.4},{"k":24,"t":30,"v":4.8},{"k":24,"t":40,"v":5.6},{"k":24,"t":50,"v":6.1},{"k":24,"t":55,"v":6.7},{"k":24,"t":60,"v":7.6},{"k":24,"t":65,"v":8.5},{"k":24,"t":70,"v":9.3},{"k":24,"t":80,"v":10.9},{"k":24,"t":90,"v":12.0},{"k":24,"t":100,"v":13.1},{"k":24,"t":110,"v":13.7},{"k":24,"t":120,"v":14.4},{"k":24,"t":130,"v":15.1},{"k":24,"t":140,"v":15.7},{"k":24,"t":150,"v":15.4},{"k":24,"t":160,"v":16.3},{"k":24,"t":170,"v":16.7},{"k":24,"t":180,"v":16.4},{"k":24,"t":190,"v":17.1},{"k":24,"t":200,"v":16.8},{"k":24,"t":210,"v":17.4},{"k":24,"t":220,"v":17.0},{"k":24,"t":230,"v":17.7},{"k":24,"t":240,"v":17.3},{"k":24,"t":250,"v":17.9}],
"wl":[
{"k":1,"t":0,"v":56900},{"k":1,"t":10,"v":57300},{"k":1,"t":20,"v":56700},{"k":1,"t":30,"v":57500},{"k":1,"t":40,"v":57000},{"k":1,"t":50,"v":56500},{"k":1,"t":55,"v":57300},{"k":1,"t":60,"v":58100},{"k":1,"t":65,"v":58800},{"k":1,"t":70,"v":59500},{"k":1,"t":80,"v":60500},{"k":1,"t":90,"v":61300},{"k":1,"t":100,"v":61800},{"k":1,"t":110,"v":62400},{"k":1,"t":120,"v":62800},{"k":1,"t":130,"v":63000},{"k":1,"t":140,"v":63400},{"k":1,"t":150,"v":63700},{"k":1,"t":160,"v":63900},{"k":1,"t":170,"v":63800},{"k":1,"t":180,"v":64100},{"k":1,"t":190,"v":64300},{"k":1,"t":200,"v":64500},{"k":1,"t":210,"v":64200},{"k":1,"t":220,"v":64400},{"k":1,"t":230,"v":64600},{"k":1,"t":240,"v":64300},{"k":1,"t":250,"v":64500},
{"k":2,"t":0,"v":55400},{"k":2,"t":10,"v":55100},{"k":2,"t":20,"v":55600},{"k":2,"t":30,"v":55000},{"k":2,"t":40,"v":55300},{"k":2,"t":50,"v":55000},{"k":2,"t":55,"v":55900},{"k":2,"t":60,"v":56600},{"k":2,"t":65,"v":57300},{"k":2,"t":70,"v":57900},{"k":2,"t":80,"v":58800},{"k":2,"t":90,"v":59600},{"k":2,"t":100,"v":60200},{"k":2,"t":110,"v":60700},{"k":2,"t":120,"v":61100},{"k":2,"t":130,"v":61500},{"k":2,"t":140,"v":61700},{"k":2,"t":150,"v":62000},{"k":2,"t":160,"v":62200},{"k":2,"t":170,"v":62000},{"k":2,"t":180,"v":62300},{"k":2,"t":190,"v":62500},{"k":2,"t":200,"v":62300},{"k":2,"t":210,"v":62600},{"k":2,"t":220,"v":62700},{"k":2,"t":230,"v":62400},{"k":2,"t":240,"v":62600},{"k":2,"t":250,"v":62300},
{"k":3,"t":0,"v":56200},{"k":3,"t":10,"v":56600},{"k":3,"t":20,"v":56300},{"k":3,"t":30,"v":55800},{"k":3,"t":40,"v":56500},{"k":3,"t":50,"v":56100},{"k":3,"t":55,"v":56900},{"k":3,"t":60,"v":57500},{"k":3,"t":65,"v":58300},{"k":3,"t":70,"v":58900},{"k":3,"t":80,"v":59900},{"k":3,"t":90,"v":60600},{"k":3,"t":100,"v":61300},{"k":3,"t":110,"v":61600},{"k":3,"t":120,"v":62000},{"k":3,"t":130,"v":62500},{"k":3,"t":140,"v":62300},{"k":3,"t":150,"v":62800},{"k":3,"t":160,"v":63100},{"k":3,"t":170,"v":62900},{"k":3,"t":180,"v":63200},{"k":3,"t":190,"v":63000},{"k":3,"t":200,"v":63400},{"k":3,"t":210,"v":63300},{"k":3,"t":220,"v":63100},{"k":3,"t":230,"v":63500},{"k":3,"t":240,"v":63300},{"k":3,"t":250,"v":63600},
{"k":4,"t":0,"v":57600},{"k":4,"t":10,"v":57200},{"k":4,"t":20,"v":57800},{"k":4,"t":30,"v":57400},{"k":4,"t":40,"v":57700},{"k":4,"t":50,"v":56900},{"k":4,"t":55,"v":57200},{"k":4,"t":60,"v":58000},{"k":4,"t":65,"v":58700},{"k":4,"t":70,"v":59300},{"k":4,"t":80,"v":60300},{"k":4,"t":90,"v":60900},{"k":4,"t":100,"v":61700},{"k":4,"t":110,"v":61900},{"k":4,"t":120,"v":62400},{"k":4,"t":130,"v":62800},{"k":4,"t":140,"v":63100},{"k":4,"t":150,"v":63000},{"k":4,"t":160,"v":63500},{"k":4,"t":170,"v":63800},{"k":4,"t":180,"v":63600},{"k":4,"t":190,"v":63900},{"k":4,"t":200,"v":64200},{"k":4,"t":210,"v":63900},{"k":4,"t":220,"v":64400},{"k":4,"t":230,"v":64100},{"k":4,"t":240,"v":64600},{"k":4,"t":250,"v":64200},
{"k":5,"t":0,"v":55900},{"k":5,"t":10,"v":56200},{"k":5,"t":20,"v":55500},{"k":5,"t":30,"v":55800},{"k":5,"t":40,"v":55200},{"k":5,"t":50,"v":55400},{"k":5,"t":55,"v":56300},{"k":5,"t":60,"v":57000},{"k":5,"t":65,"v":57500},{"k":5,"t":70,"v":58200},{"k":5,"t":80,"v":59100},{"k":5,"t":90,"v":60000},{"k":5,"t":100,"v":60600},{"k":5,"t":110,"v":61200},{"k":5,"t":120,"v":61600},{"k":5,"t":130,"v":61800},{"k":5,"t":140,"v":62300},{"k":5,"t":150,"v":62500},{"k":5,"t":160,"v":62200},{"k":5,"t":170,"v":62700},{"k":5,"t":180,"v":62900},{"k":5,"t":190,"v":62700},{"k":5,"t":200,"v":63000},{"k":5,"t":210,"v":63300},{"k":5,"t":220,"v":62900},{"k":5,"t":230,"v":63100},{"k":5,"t":240,"v":63400},{"k":5,"t":250,"v":63000},
{"k":6,"t":0,"v":56600},{"k":6,"t":10,"v":56300},{"k":6,"t":20,"v":56900},{"k":6,"t":30,"v":56500},{"k":6,"t":40,"v":57200},{"k":6,"t":50,"v":56400},{"k":6,"t":55,"v":57000},{"k":6,"t":60,"v":57300},{"k":6,"t":65,"v":58200},{"k":6,"t":70,"v":58600},{"k":6,"t":80,"v":59500},{"k":6,"t":90,"v":60200},{"k":6,"t":100,"v":60700},{"k":6,"t":110,"v":61200},{"k":6,"t":120,"v":61500},{"k":6,"t":130,"v":61800},{"k":6,"t":140,"v":62100},{"k":6,"t":150,"v":62600},{"k":6,"t":160,"v":62800},{"k":6,"t":170,"v":62500},{"k":6,"t":180,"v":62900},{"k":6,"t":190,"v":63200},{"k":6,"t":200,"v":62900},{"k":6,"t":210,"v":63300},{"k":6,"t":220,"v":63100},{"k":6,"t":230,"v":63500},{"k":6,"t":240,"v":63200},{"k":6,"t":250,"v":63400},
{"k":7,"t":0,"v":55000},{"k":7,"t":10,"v":55300},{"k":7,"t":20,"v":55700},{"k":7,"t":30,"v":55200},{"k":7,"t":40,"v":54800},{"k":7,"t":50,"v":55300},{"k":7,"t":55,"v":56100},{"k":7,"t":60,"v":56800},{"k":7,"t":65,"v":57500},{"k":7,"t":70,"v":58200},{"k":7,"t":80,"v":59200},{"k":7,"t":90,"v":60000},{"k":7,"t":100,"v":60500},{"k":7,"t":110,"v":61100},{"k":7,"t":120,"v":61500},{"k":7,"t":130,"v":61900},{"k":7,"t":140,"v":62200},{"k":7,"t":150,"v":62500},{"k":7,"t":160,"v":62900},{"k":7,"t":170,"v":62700},{"k":7,"t":180,"v":63000},{"k":7,"t":190,"v":63200},{"k":7,"t":200,"v":63400},{"k":7,"t":210,"v":63000},{"k":7,"t":220,"v":63300},{"k":7,"t":230,"v":63500},{"k":7,"t":240,"v":63100},{"k":7,"t":250,"v":63300},
{"k":8,"t":0,"v":56400},{"k":8,"t":10,"v":55900},{"k":8,"t":20,"v":56500},{"k":8,"t":30,"v":56800},{"k":8,"t":40,"v":55900},{"k":8,"t":50,"v":55600},{"k":8,"t":55,"v":56500},{"k":8,"t":60,"v":57200},{"k":8,"t":65,"v":57900},{"k":8,"t":70,"v":58500},{"k":8,"t":80,"v":59500},{"k":8,"t":90,"v":60300},{"k":8,"t":100,"v":60900},{"k":8,"t":110,"v":61500},{"k":8,"t":120,"v":61800},{"k":8,"t":130,"v":62000},{"k":8,"t":140,"v":62600},{"k":8,"t":150,"v":62400},{"k":8,"t":160,"v":62800},{"k":8,"t":170,"v":63100},{"k":8,"t":180,"v":62900},{"k":8,"t":190,"v":63300},{"k":8,"t":200,"v":63400},{"k":8,"t":210,"v":63100},{"k":8,"t":220,"v":63500},{"k":8,"t":230,"v":63300},{"k":8,"t":240,"v":63700},{"k":8,"t":250,"v":63500},
{"k":9,"t":0,"v":57300},{"k":9,"t":10,"v":56900},{"k":9,"t":20,"v":57500},{"k":9,"t":30,"v":57700},{"k":9,"t":40,"v":57000},{"k":9,"t":50,"v":57200},{"k":9,"t":55,"v":57500},{"k":9,"t":60,"v":58300},{"k":9,"t":65,"v":58900},{"k":9,"t":70,"v":59300},{"k":9,"t":80,"v":60200},{"k":9,"t":90,"v":61000},{"k":9,"t":100,"v":61400},{"k":9,"t":110,"v":61900},{"k":9,"t":120,"v":62200},{"k":9,"t":130,"v":62700},{"k":9,"t":140,"v":62600},{"k":9,"t":150,"v":63100},{"k":9,"t":160,"v":63300},{"k":9,"t":170,"v":63500},{"k":9,"t":180,"v":63300},{"k":9,"t":190,"v":63700},{"k":9,"t":200,"v":63500},{"k":9,"t":210,"v":63900},{"k":9,"t":220,"v":63700},{"k":9,"t":230,"v":64000},{"k":9,"t":240,"v":63800},{"k":9,"t":250,"v":64000},
{"k":10,"t":0,"v":55300},{"k":10,"t":10,"v":55800},{"k":10,"t":20,"v":56200},{"k":10,"t":30,"v":55500},{"k":10,"t":40,"v":55800},{"k":10,"t":50,"v":55200},{"k":10,"t":55,"v":56000},{"k":10,"t":60,"v":56800},{"k":10,"t":65,"v":57400},{"k":10,"t":70,"v":58000},{"k":10,"t":80,"v":59000},{"k":10,"t":90,"v":59800},{"k":10,"t":100,"v":60400},{"k":10,"t":110,"v":60900},{"k":10,"t":120,"v":61400},{"k":10,"t":130,"v":61600},{"k":10,"t":140,"v":62000},{"k":10,"t":150,"v":61900},{"k":10,"t":160,"v":62400},{"k":10,"t":170,"v":62600},{"k":10,"t":180,"v":62400},{"k":10,"t":190,"v":62800},{"k":10,"t":200,"v":63000},{"k":10,"t":210,"v":62700},{"k":10,"t":220,"v":63200},{"k":10,"t":230,"v":63000},{"k":10,"t":240,"v":62700},{"k":10,"t":250,"v":63000},
{"k":11,"t":0,"v":56000},{"k":11,"t":10,"v":56400},{"k":11,"t":20,"v":55700},{"k":11,"t":30,"v":56100},{"k":11,"t":40,"v":56600},{"k":11,"t":50,"v":56200},{"k":11,"t":55,"v":56800},{"k":11,"t":60,"v":57500},{"k":11,"t":65,"v":58200},{"k":11,"t":70,"v":58800},{"k":11,"t":80,"v":59700},{"k":11,"t":90,"v":60300},{"k":11,"t":100,"v":61100},{"k":11,"t":110,"v":61300},{"k":11,"t":120,"v":61900},{"k":11,"t":130,"v":62300},{"k":11,"t":140,"v":62600},{"k":11,"t":150,"v":62400},{"k":11,"t":160,"v":63000},{"k":11,"t":170,"v":63200},{"k":11,"t":180,"v":63400},{"k":11,"t":190,"v":63100},{"k":11,"t":200,"v":63500},{"k":11,"t":210,"v":63700},{"k":11,"t":220,"v":63400},{"k":11,"t":230,"v":63600},{"k":11,"t":240,"v":63900},{"k":11,"t":250,"v":63500},
{"k":12,"t":0,"v":57000},{"k":12,"t":10,"v":57500},{"k":12,"t":20,"v":57100},{"k":12,"t":30,"v":56700},{"k":12,"t":40,"v":57600},{"k":12,"t":50,"v":56800},{"k":12,"t":55,"v":57000},{"k":12,"t":60,"v":57800},{"k":12,"t":65,"v":58500},{"k":12,"t":70,"v":59000},{"k":12,"t":80,"v":59900},{"k":12,"t":90,"v":60700},{"k":12,"t":100,"v":61100},{"k":12,"t":110,"v":61700},{"k":12,"t":120,"v":62200},{"k":12,"t":130,"v":62300},{"k":12,"t":140,"v":62700},{"k":12,"t":150,"v":62900},{"k":12,"t":160,"v":62800},{"k":12,"t":170,"v":63300},{"k":12,"t":180,"v":63500},{"k":12,"t":190,"v":63400},{"k":12,"t":200,"v":63800},{"k":12,"t":210,"v":63600},{"k":12,"t":220,"v":64000},{"k":12,"t":230,"v":63700},{"k":12,"t":240,"v":63900},{"k":12,"t":250,"v":63600},
{"k":13,"t":0,"v":55600},{"k":13,"t":10,"v":55300},{"k":13,"t":20,"v":55000},{"k":13,"t":30,"v":55500},{"k":13,"t":40,"v":55900},{"k":13,"t":50,"v":55500},{"k":13,"t":55,"v":56300},{"k":13,"t":60,"v":57000},{"k":13,"t":65,"v":57700},{"k":13,"t":70,"v":58300},{"k":13,"t":80,"v":59400},{"k":13,"t":90,"v":60100},{"k":13,"t":100,"v":60800},{"k":13,"t":110,"v":61300},{"k":13,"t":120,"v":61600},{"k":13,"t":130,"v":62100},{"k":13,"t":140,"v":62300},{"k":13,"t":150,"v":62800},{"k":13,"t":160,"v":62600},{"k":13,"t":170,"v":63000},{"k":13,"t":180,"v":62900},{"k":13,"t":190,"v":63300},{"k":13,"t":200,"v":63100},{"k":13,"t":210,"v":63400},{"k":13,"t":220,"v":63100},{"k":13,"t":230,"v":63500},{"k":13,"t":240,"v":63300},{"k":13,"t":250,"v":63400},
{"k":14,"t":0,"v":56700},{"k":14,"t":10,"v":57100},{"k":14,"t":20,"v":57300},{"k":14,"t":30,"v":56600},{"k":14,"t":40,"v":57000},{"k":14,"t":50,"v":56400},{"k":14,"t":55,"v":57100},{"k":14,"t":60,"v":57700},{"k":14,"t":65,"v":58500},{"k":14,"t":70,"v":59300},{"k":14,"t":80,"v":60100},{"k":14,"t":90,"v":60900},{"k":14,"t":100,"v":61300},{"k":14,"t":110,"v":61800},{"k":14,"t":120,"v":62300},{"k":14,"t":130,"v":62500},{"k":14,"t":140,"v":63000},{"k":14,"t":150,"v":63400},{"k":14,"t":160,"v":63300},{"k":14,"t":170,"v":63600},{"k":14,"t":180,"v":63400},{"k":14,"t":190,"v":63700},{"k":14,"t":200,"v":63900},{"k":14,"t":210,"v":63600},{"k":14,"t":220,"v":63900},{"k":14,"t":230,"v":63700},{"k":14,"t":240,"v":64200},{"k":14,"t":250,"v":63900},
{"k":15,"t":0,"v":55100},{"k":15,"t":10,"v":55600},{"k":15,"t":20,"v":55000},{"k":15,"t":30,"v":55400},{"k":15,"t":40,"v":54900},{"k":15,"t":50,"v":55100},{"k":15,"t":55,"v":56000},{"k":15,"t":60,"v":56700},{"k":15,"t":65,"v":57400},{"k":15,"t":70,"v":58000},{"k":15,"t":80,"v":59000},{"k":15,"t":90,"v":59800},{"k":15,"t":100,"v":60400},{"k":15,"t":110,"v":60800},{"k":15,"t":120,"v":61200},{"k":15,"t":130,"v":61600},{"k":15,"t":140,"v":62000},{"k":15,"t":150,"v":61800},{"k":15,"t":160,"v":62200},{"k":15,"t":170,"v":62500},{"k":15,"t":180,"v":62600},{"k":15,"t":190,"v":62300},{"k":15,"t":200,"v":62700},{"k":15,"t":210,"v":62500},{"k":15,"t":220,"v":62900},{"k":15,"t":230,"v":62700},{"k":15,"t":240,"v":62400},{"k":15,"t":250,"v":62800},
{"k":16,"t":0,"v":56800},{"k":16,"t":10,"v":56300},{"k":16,"t":20,"v":56600},{"k":16,"t":30,"v":57000},{"k":16,"t":40,"v":56000},{"k":16,"t":50,"v":56700},{"k":16,"t":55,"v":57300},{"k":16,"t":60,"v":57900},{"k":16,"t":65,"v":58600},{"k":16,"t":70,"v":59200},{"k":16,"t":80,"v":60200},{"k":16,"t":90,"v":60900},{"k":16,"t":100,"v":61500},{"k":16,"t":110,"v":62000},{"k":16,"t":120,"v":62200},{"k":16,"t":130,"v":62700},{"k":16,"t":140,"v":62400},{"k":16,"t":150,"v":62900},{"k":16,"t":160,"v":63200},{"k":16,"t":170,"v":63600},{"k":16,"t":180,"v":63400},{"k":16,"t":190,"v":63800},{"k":16,"t":200,"v":63500},{"k":16,"t":210,"v":63900},{"k":16,"t":220,"v":63700},{"k":16,"t":230,"v":64100},{"k":16,"t":240,"v":63900},{"k":16,"t":250,"v":64200},
{"k":17,"t":0,"v":56200},{"k":17,"t":10,"v":55700},{"k":17,"t":20,"v":56100},{"k":17,"t":30,"v":56700},{"k":17,"t":40,"v":55900},{"k":17,"t":50,"v":56200},{"k":17,"t":55,"v":56900},{"k":17,"t":60,"v":57400},{"k":17,"t":65,"v":58200},{"k":17,"t":70,"v":58800},{"k":17,"t":80,"v":59700},{"k":17,"t":90,"v":60500},{"k":17,"t":100,"v":61100},{"k":17,"t":110,"v":61500},{"k":17,"t":120,"v":61900},{"k":17,"t":130,"v":62300},{"k":17,"t":140,"v":62500},{"k":17,"t":150,"v":62700},{"k":17,"t":160,"v":63000},{"k":17,"t":170,"v":62900},{"k":17,"t":180,"v":63100},{"k":17,"t":190,"v":63400},{"k":17,"t":200,"v":63100},{"k":17,"t":210,"v":63500},{"k":17,"t":220,"v":63300},{"k":17,"t":230,"v":63600},{"k":17,"t":240,"v":63400},{"k":17,"t":250,"v":63700},
{"k":18,"t":0,"v":57500},{"k":18,"t":10,"v":57700},{"k":18,"t":20,"v":57200},{"k":18,"t":30,"v":57600},{"k":18,"t":40,"v":56900},{"k":18,"t":50,"v":56900},{"k":18,"t":55,"v":57300},{"k":18,"t":60,"v":58000},{"k":18,"t":65,"v":58700},{"k":18,"t":70,"v":59300},{"k":18,"t":80,"v":60300},{"k":18,"t":90,"v":60900},{"k":18,"t":100,"v":61400},{"k":18,"t":110,"v":61900},{"k":18,"t":120,"v":62400},{"k":18,"t":130,"v":62600},{"k":18,"t":140,"v":63000},{"k":18,"t":150,"v":62900},{"k":18,"t":160,"v":63300},{"k":18,"t":170,"v":63500},{"k":18,"t":180,"v":63800},{"k":18,"t":190,"v":63500},{"k":18,"t":200,"v":63900},{"k":18,"t":210,"v":64100},{"k":18,"t":220,"v":63800},{"k":18,"t":230,"v":64200},{"k":18,"t":240,"v":63900},{"k":18,"t":250,"v":64300},
{"k":19,"t":0,"v":55200},{"k":19,"t":10,"v":54800},{"k":19,"t":20,"v":55500},{"k":19,"t":30,"v":56000},{"k":19,"t":40,"v":55600},{"k":19,"t":50,"v":55600},{"k":19,"t":55,"v":56200},{"k":19,"t":60,"v":56900},{"k":19,"t":65,"v":57500},{"k":19,"t":70,"v":58100},{"k":19,"t":80,"v":59100},{"k":19,"t":90,"v":59900},{"k":19,"t":100,"v":60500},{"k":19,"t":110,"v":61000},{"k":19,"t":120,"v":61500},{"k":19,"t":130,"v":61700},{"k":19,"t":140,"v":61900},{"k":19,"t":150,"v":62300},{"k":19,"t":160,"v":62600},{"k":19,"t":170,"v":62400},{"k":19,"t":180,"v":62800},{"k":19,"t":190,"v":62600},{"k":19,"t":200,"v":62900},{"k":19,"t":210,"v":62700},{"k":19,"t":220,"v":63100},{"k":19,"t":230,"v":62800},{"k":19,"t":240,"v":63200},{"k":19,"t":250,"v":63000},
{"k":20,"t":0,"v":56500},{"k":20,"t":10,"v":57000},{"k":20,"t":20,"v":57400},{"k":20,"t":30,"v":56700},{"k":20,"t":40,"v":57300},{"k":20,"t":50,"v":56500},{"k":20,"t":55,"v":57000},{"k":20,"t":60,"v":57600},{"k":20,"t":65,"v":58300},{"k":20,"t":70,"v":58900},{"k":20,"t":80,"v":59900},{"k":20,"t":90,"v":60700},{"k":20,"t":100,"v":61200},{"k":20,"t":110,"v":61600},{"k":20,"t":120,"v":62000},{"k":20,"t":130,"v":62500},{"k":20,"t":140,"v":62800},{"k":20,"t":150,"v":63000},{"k":20,"t":160,"v":63200},{"k":20,"t":170,"v":63500},{"k":20,"t":180,"v":63200},{"k":20,"t":190,"v":63700},{"k":20,"t":200,"v":63600},{"k":20,"t":210,"v":63900},{"k":20,"t":220,"v":63700},{"k":20,"t":230,"v":64000},{"k":20,"t":240,"v":63700},{"k":20,"t":250,"v":64100},
{"k":21,"t":0,"v":55800},{"k":21,"t":10,"v":56200},{"k":21,"t":20,"v":56400},{"k":21,"t":30,"v":56200},{"k":21,"t":40,"v":55500},{"k":21,"t":50,"v":56000},{"k":21,"t":55,"v":56700},{"k":21,"t":60,"v":57400},{"k":21,"t":65,"v":57900},{"k":21,"t":70,"v":58700},{"k":21,"t":80,"v":59500},{"k":21,"t":90,"v":60300},{"k":21,"t":100,"v":60900},{"k":21,"t":110,"v":61400},{"k":21,"t":120,"v":61800},{"k":21,"t":130,"v":62000},{"k":21,"t":140,"v":62600},{"k":21,"t":150,"v":62700},{"k":21,"t":160,"v":62800},{"k":21,"t":170,"v":63100},{"k":21,"t":180,"v":63000},{"k":21,"t":190,"v":63300},{"k":21,"t":200,"v":63400},{"k":21,"t":210,"v":63200},{"k":21,"t":220,"v":63500},{"k":21,"t":230,"v":63200},{"k":21,"t":240,"v":63600},{"k":21,"t":250,"v":63400},
{"k":22,"t":0,"v":56300},{"k":22,"t":10,"v":56800},{"k":22,"t":20,"v":56600},{"k":22,"t":30,"v":57100},{"k":22,"t":40,"v":57600},{"k":22,"t":50,"v":57000},{"k":22,"t":55,"v":57400},{"k":22,"t":60,"v":57800},{"k":22,"t":65,"v":58500},{"k":22,"t":70,"v":59000},{"k":22,"t":80,"v":59800},{"k":22,"t":90,"v":60500},{"k":22,"t":100,"v":61000},{"k":22,"t":110,"v":61600},{"k":22,"t":120,"v":62000},{"k":22,"t":130,"v":62400},{"k":22,"t":140,"v":62500},{"k":22,"t":150,"v":62900},{"k":22,"t":160,"v":63100},{"k":22,"t":170,"v":63000},{"k":22,"t":180,"v":63300},{"k":22,"t":190,"v":63500},{"k":22,"t":200,"v":63700},{"k":22,"t":210,"v":63500},{"k":22,"t":220,"v":63900},{"k":22,"t":230,"v":63600},{"k":22,"t":240,"v":63800},{"k":22,"t":250,"v":63500},
{"k":23,"t":0,"v":54900},{"k":23,"t":10,"v":55300},{"k":23,"t":20,"v":55600},{"k":23,"t":30,"v":55000},{"k":23,"t":40,"v":55300},{"k":23,"t":50,"v":54700},{"k":23,"t":55,"v":55700},{"k":23,"t":60,"v":56500},{"k":23,"t":65,"v":57200},{"k":23,"t":70,"v":57900},{"k":23,"t":80,"v":59000},{"k":23,"t":90,"v":59800},{"k":23,"t":100,"v":60300},{"k":23,"t":110,"v":60700},{"k":23,"t":120,"v":61200},{"k":23,"t":130,"v":61500},{"k":23,"t":140,"v":61900},{"k":23,"t":150,"v":62200},{"k":23,"t":160,"v":62000},{"k":23,"t":170,"v":62400},{"k":23,"t":180,"v":62600},{"k":23,"t":190,"v":62800},{"k":23,"t":200,"v":62500},{"k":23,"t":210,"v":62900},{"k":23,"t":220,"v":62700},{"k":23,"t":230,"v":63000},{"k":23,"t":240,"v":62800},{"k":23,"t":250,"v":62600},
{"k":24,"t":0,"v":57100},{"k":24,"t":10,"v":56700},{"k":24,"t":20,"v":57200},{"k":24,"t":30,"v":56900},{"k":24,"t":40,"v":57300},{"k":24,"t":50,"v":57600},{"k":24,"t":55,"v":58000},{"k":24,"t":60,"v":58600},{"k":24,"t":65,"v":59200},{"k":24,"t":70,"v":59700},{"k":24,"t":80,"v":60600},{"k":24,"t":90,"v":61300},{"k":24,"t":100,"v":61900},{"k":24,"t":110,"v":62200},{"k":24,"t":120,"v":62700},{"k":24,"t":130,"v":63100},{"k":24,"t":140,"v":63400},{"k":24,"t":150,"v":63300},{"k":24,"t":160,"v":63800},{"k":24,"t":170,"v":64000},{"k":24,"t":180,"v":63800},{"k":24,"t":190,"v":64200},{"k":24,"t":200,"v":64000},{"k":24,"t":210,"v":64400},{"k":24,"t":220,"v":64200},{"k":24,"t":230,"v":64600},{"k":24,"t":240,"v":64300},{"k":24,"t":250,"v":64700}],
"db":[{"t":2,"v":1.66},{"t":4,"v":1.85},{"t":6,"v":1.62},{"t":8,"v":1.78},{"t":10,"v":1.6},{"t":12,"v":1.75},{"t":14,"v":1.68},{"t":16,"v":1.8},{"t":18,"v":1.63},{"t":20,"v":1.72},{"t":22,"v":1.58},{"t":24,"v":1.7},{"t":26,"v":1.65},{"t":28,"v":1.82},{"t":30,"v":1.66},{"t":32,"v":1.86},{"t":34,"v":1.62},{"t":36,"v":1.74},{"t":38,"v":1.6},{"t":40,"v":1.78},{"t":42,"v":1.64},{"t":44,"v":1.84},{"t":46,"v":1.66},{"t":48,"v":1.76},{"t":50,"v":1.7},{"t":51,"v":1.09},{"t":52,"v":1.14},{"t":54,"v":1.13},{"t":56,"v":1.15},{"t":58,"v":1.12},{"t":60,"v":1.14},{"t":62,"v":1.16},{"t":64,"v":1.13},{"t":66,"v":1.15},{"t":68,"v":1.12},{"t":70,"v":1.17},{"t":72,"v":1.14},{"t":74,"v":1.19},{"t":76,"v":1.15},{"t":78,"v":1.17},{"t":80,"v":1.13},{"t":82,"v":1.2},{"t":84,"v":1.16},{"t":86,"v":1.19},{"t":88,"v":1.15},{"t":90,"v":1.21},{"t":92,"v":1.17},{"t":94,"v":1.2},{"t":96,"v":1.16},{"t":98,"v":1.22},{"t":100,"v":1.18},{"t":102,"v":1.21},{"t":104,"v":1.17},{"t":106,"v":1.24},{"t":108,"v":1.19},{"t":110,"v":1.23},{"t":112,"v":1.26},{"t":114,"v":1.2},{"t":116,"v":1.24},{"t":118,"v":1.21},{"t":120,"v":1.25},{"t":122,"v":1.18},{"t":124,"v":1.23},{"t":126,"v":1.2},{"t":128,"v":1.24},{"t":130,"v":1.22},{"t":132,"v":1.25},{"t":134,"v":1.21},{"t":136,"v":1.28},{"t":138,"v":1.24},{"t":140,"v":1.3},{"t":142,"v":1.25},{"t":144,"v":1.29},{"t":146,"v":1.23},{"t":148,"v":1.31},{"t":150,"v":1.26},{"t":152,"v":1.3},{"t":154,"v":1.24},{"t":156,"v":1.29},{"t":158,"v":1.22},{"t":160,"v":1.28},{"t":162,"v":1.25},{"t":164,"v":1.31},{"t":166,"v":1.23},{"t":168,"v":1.27},{"t":170,"v":1.21},{"t":172,"v":1.29},{"t":174,"v":1.24},{"t":176,"v":1.3},{"t":178,"v":1.2},{"t":180,"v":1.27},{"t":182,"v":1.16},{"t":184,"v":1.25},{"t":186,"v":1.22},{"t":188,"v":1.3},{"t":190,"v":1.23},{"t":192,"v":1.28},{"t":194,"v":1.19},{"t":196,"v":1.32},{"t":198,"v":1.26},{"t":200,"v":1.34},{"t":202,"v":1.27},{"t":204,"v":1.33},{"t":206,"v":1.25},{"t":208,"v":1.3},{"t":210,"v":1.22},{"t":212,"v":1.28},{"t":214,"v":1.24},{"t":216,"v":1.27},{"t":218,"v":1.21},{"t":220,"v":1.26},{"t":222,"v":1.23},{"t":224,"v":1.29},{"t":226,"v":1.25},{"t":228,"v":1.31},{"t":230,"v":1.24},{"t":232,"v":1.28},{"t":234,"v":1.22},{"t":236,"v":1.31},{"t":238,"v":1.25},{"t":240,"v":1.3},{"t":242,"v":1.23},{"t":244,"v":1.29},{"t":246,"v":1.26},{"t":248,"v":1.28},{"t":250,"v":1.25}],
"do":[{"t":2,"v":1.72},{"t":4,"v":1.6},{"t":6,"v":1.84},{"t":8,"v":1.65},{"t":10,"v":1.78},{"t":12,"v":1.58},{"t":14,"v":1.74},{"t":16,"v":1.66},{"t":18,"v":1.86},{"t":20,"v":1.62},{"t":22,"v":1.76},{"t":24,"v":1.56},{"t":26,"v":1.72},{"t":28,"v":1.68},{"t":30,"v":1.84},{"t":32,"v":1.64},{"t":34,"v":1.8},{"t":36,"v":1.7},{"t":38,"v":1.9},{"t":40,"v":1.62},{"t":42,"v":1.82},{"t":44,"v":1.56},{"t":46,"v":1.74},{"t":48,"v":1.68},{"t":50,"v":1.72},{"t":51,"v":1.28},{"t":52,"v":1.22},{"t":54,"v":1.33},{"t":56,"v":1.24},{"t":58,"v":1.31},{"t":60,"v":1.22},{"t":62,"v":1.3},{"t":64,"v":1.25},{"t":66,"v":1.34},{"t":68,"v":1.21},{"t":70,"v":1.29},{"t":72,"v":1.24},{"t":74,"v":1.32},{"t":76,"v":1.22},{"t":78,"v":1.3},{"t":80,"v":1.26},{"t":82,"v":1.33},{"t":84,"v":1.21},{"t":86,"v":1.28},{"t":88,"v":1.24},{"t":90,"v":1.32},{"t":92,"v":1.22},{"t":94,"v":1.29},{"t":96,"v":1.25},{"t":98,"v":1.33},{"t":100,"v":1.22},{"t":102,"v":1.3},{"t":104,"v":1.24},{"t":106,"v":1.31},{"t":108,"v":1.21},{"t":110,"v":1.29},{"t":112,"v":1.26},{"t":114,"v":1.34},{"t":116,"v":1.23},{"t":118,"v":1.29},{"t":120,"v":1.24},{"t":122,"v":1.32},{"t":124,"v":1.22},{"t":126,"v":1.28},{"t":128,"v":1.25},{"t":130,"v":1.33},{"t":132,"v":1.23},{"t":134,"v":1.3},{"t":136,"v":1.26},{"t":138,"v":1.34},{"t":140,"v":1.22},{"t":142,"v":1.29},{"t":144,"v":1.25},{"t":146,"v":1.31},{"t":148,"v":1.21},{"t":150,"v":1.28},{"t":152,"v":1.33},{"t":154,"v":1.23},{"t":156,"v":1.29},{"t":158,"v":1.25},{"t":160,"v":1.32},{"t":162,"v":1.22},{"t":164,"v":1.3},{"t":166,"v":1.24},{"t":168,"v":1.33},{"t":170,"v":1.21},{"t":172,"v":1.28},{"t":174,"v":1.25},{"t":176,"v":1.31},{"t":178,"v":1.2},{"t":180,"v":1.28},{"t":182,"v":1.23},{"t":184,"v":1.31},{"t":186,"v":1.25},{"t":188,"v":1.33},{"t":190,"v":1.22},{"t":192,"v":1.29},{"t":194,"v":1.24},{"t":196,"v":1.32},{"t":198,"v":1.26},{"t":200,"v":1.3},{"t":202,"v":1.22},{"t":204,"v":1.29},{"t":206,"v":1.25},{"t":208,"v":1.32},{"t":210,"v":1.23},{"t":212,"v":1.29},{"t":214,"v":1.24},{"t":216,"v":1.31},{"t":218,"v":1.22},{"t":220,"v":1.28},{"t":222,"v":1.25},{"t":224,"v":1.32},{"t":226,"v":1.21},{"t":228,"v":1.29},{"t":230,"v":1.26},{"t":232,"v":1.31},{"t":234,"v":1.23},{"t":236,"v":1.28},{"t":238,"v":1.25},{"t":240,"v":1.32},{"t":242,"v":1.22},{"t":244,"v":1.29},{"t":246,"v":1.26},{"t":248,"v":1.3},{"t":250,"v":1.27}]
},
"columns":2,
"bounds":"flush",
"spacing":{"row":84,"column":134},
"concat":[
{"width":357,"height":223,"title":{"text":"u*old = 0.0408, u*new = 0.0308"},
 "layer":[
   {"data":{"name":"r1"},"mark":{"type":"rule","strokeWidth":1.2},
    "encoding":{"x":{"field":"a","type":"quantitative","scale":{"domain":[-5.3,254.6],"nice":false,"zero":false},"axis":{"orient":"top","offset":-223,"values":[0,50,100,150,200,250],"tickSize":6,"labels":false,"title":null}},"x2":{"field":"b"},
     "y":{"field":"v","type":"quantitative","scale":{"domain":[0,0.378],"nice":false,"zero":false},"axis":{"orient":"right","offset":-357,"values":[0,0.05,0.1,0.15,0.2,0.25,0.3,0.35],"tickSize":6,"labels":false,"title":null}},
     "color":{"condition":{"test":"datum.k=='old'","value":"#f08c8c"},"value":"#7878ee"},
     "strokeDash":{"condition":{"test":"datum.k=='old'","value":[1.5,4]},"value":[7,4]}}},
   {"data":{"name":"ub"},"mark":{"type":"line","color":"#111111","strokeWidth":1.1},
    "encoding":{"x":{"field":"t","type":"quantitative","scale":{"domain":[-5.3,254.6],"nice":false,"zero":false},"axis":{"orient":"bottom","values":[0,50,100,150,200,250],"ticks":false,"labelPadding":8,"titlePadding":10,"title":"time"}},
     "y":{"field":"v","type":"quantitative","scale":{"domain":[0,0.378],"nice":false,"zero":false},"axis":{"orient":"left","values":[0,0.05,0.1,0.15,0.2,0.25,0.3,0.35],"format":".2f","ticks":false,"labelPadding":5,"titlePadding":9,"title":"unemployment"}}}},
   {"data":{"name":"uo"},"mark":{"type":"line","color":"#0000ff","opacity":0.28,"strokeWidth":3.5},
    "encoding":{"x":{"field":"t","type":"quantitative","scale":{"domain":[-5.3,254.6],"nice":false,"zero":false},"axis":{"orient":"top","offset":-223,"values":[10,20,30,40,60,70,80,90,110,120,130,140,160,170,180,190,210,220,230,240],"tickSize":3,"labels":false,"title":null}},
     "y":{"field":"v","type":"quantitative","scale":{"domain":[0,0.378],"nice":false,"zero":false},"axis":{"orient":"right","offset":-357,"values":[0.01,0.02,0.03,0.04,0.06,0.07,0.08,0.09,0.11,0.12,0.13,0.14,0.16,0.17,0.18,0.19,0.21,0.22,0.23,0.24,0.26,0.27,0.28,0.29,0.31,0.32,0.33,0.34,0.36,0.37],"tickSize":3,"labels":false,"title":null}}}},
   {"data":{"name":"r1"},"mark":{"type":"point","filled":true,"size":60,"opacity":1},
    "encoding":{"x":{"field":"a","type":"quantitative","scale":{"domain":[-5.3,254.6],"nice":false,"zero":false},"axis":{"orient":"bottom","offset":-223,"values":[0,50,100,150,200,250],"tickSize":6,"labels":false,"title":null}},
     "y":{"field":"v","type":"quantitative","scale":{"domain":[0,0.378],"nice":false,"zero":false},"axis":{"orient":"left","offset":-357,"values":[0,0.05,0.1,0.15,0.2,0.25,0.3,0.35],"tickSize":6,"labels":false,"title":null}},
     "color":{"condition":{"test":"datum.k=='old'","value":"#e00000"},"value":"#0000f0"}}},
   {"data":{"name":"uo"},"transform":[{"filter":{"field":"t","range":[40,60]}}],"mark":{"type":"line","color":"#b4b4f0","strokeWidth":1.6},
    "encoding":{"x":{"field":"t","type":"quantitative","scale":{"domain":[40,60],"range":[154,320],"nice":false,"zero":false},"axis":{"orient":"bottom","offset":-63,"values":[40,45,50,55,60],"labelFontSize":4,"labelPadding":2,"domain":true,"domainColor":"#444","domainWidth":1,"tickColor":"#444","tickSize":3,"title":null}},
     "y":{"field":"v","type":"quantitative","scale":{"domain":[0,0.37],"range":[160,57],"nice":false,"zero":false},"axis":{"orient":"left","offset":-154,"values":[0,0.05,0.1,0.15,0.2,0.25,0.3,0.35],"format":".2f","labelFontSize":4,"labelPadding":2,"domain":true,"domainColor":"#444","domainWidth":1,"tickColor":"#444","tickSize":3,"title":null}}}},
   {"data":{"name":"ub"},"transform":[{"filter":{"field":"t","range":[40,60]}}],"mark":{"type":"line","color":"#555555","strokeWidth":1},
    "encoding":{"x":{"field":"t","type":"quantitative","scale":{"domain":[40,60],"range":[154,320],"nice":false,"zero":false},"axis":null},"y":{"field":"v","type":"quantitative","scale":{"domain":[0,0.37],"range":[160,57],"nice":false,"zero":false},"axis":null}}}
 ],
 "resolve":{"scale":{"x":"independent","y":"independent"},"axis":{"x":"independent","y":"independent"}}},
{"width":357,"height":223,"title":{"text":"Q*old = 3.02, Q*new = 16.1"},
 "layer":[
  {"data":{"name":"r2"},"mark":{"type":"rule","strokeWidth":1.2},
   "encoding":{"x":{"field":"a","type":"quantitative","scale":{"domain":[-5.3,254.6],"nice":false,"zero":false},"axis":{"orient":"top","offset":-223,"values":[0,50,100,150,200,250],"tickSize":6,"labels":false,"title":null}},"x2":{"field":"b"},
    "y":{"field":"v","type":"quantitative","scale":{"domain":[-6.1,21.8],"nice":false,"zero":false},"axis":{"orient":"right","offset":-357,"values":[-5,0,5,10,15,20],"tickSize":6,"labels":false,"title":null}},
    "color":{"condition":{"test":"datum.k=='old'","value":"#f08c8c"},"value":"#7878ee"},
    "strokeDash":{"condition":{"test":"datum.k=='old'","value":[1.5,4]},"value":[7,4]}}},
  {"data":{"name":"z"},"mark":{"type":"rule","color":"#a8a8a8","strokeWidth":1.5},
   "encoding":{"y":{"field":"v","type":"quantitative","axis":null}}},
  {"data":{"name":"bl"},"mark":{"type":"line","color":"#000000","strokeWidth":1},
   "encoding":{"x":{"field":"t","type":"quantitative","axis":{"orient":"bottom","values":[0,50,100,150,200,250],"ticks":false,"labelPadding":8,"titlePadding":10,"title":"time"}},
    "y":{"field":"v","type":"quantitative","axis":{"orient":"left","values":[-5,0,5,10,15,20],"ticks":false,"labelPadding":5,"titlePadding":9,"title":"beliefs"}},
    "detail":{"field":"k"}}},
  {"data":{"name":"bm"},"mark":{"type":"line","color":"#ff00ff","strokeWidth":4},
   "encoding":{"x":{"field":"t","type":"quantitative","axis":{"orient":"top","offset":-223,"values":[10,20,30,40,60,70,80,90,110,120,130,140,160,170,180,190,210,220,230,240],"tickSize":3,"labels":false,"title":null}},
    "y":{"field":"v","type":"quantitative","axis":{"orient":"right","offset":-357,"values":[-6,-4,-3,-2,-1,1,2,3,4,6,7,8,9,11,12,13,14,16,17,18,19,21],"tickSize":3,"labels":false,"title":null}}}},
  {"data":{"name":"r2"},"mark":{"type":"point","filled":true,"size":60,"opacity":1},
   "encoding":{"x":{"field":"a","type":"quantitative","axis":{"orient":"bottom","offset":-223,"values":[0,50,100,150,200,250],"tickSize":6,"labels":false,"title":null}},
    "y":{"field":"v","type":"quantitative","axis":{"orient":"left","offset":-357,"values":[-5,0,5,10,15,20],"tickSize":6,"labels":false,"title":null}},
    "color":{"condition":{"test":"datum.k=='old'","value":"#e00000"},"value":"#0000f0"}}}
 ],
 "resolve":{"axis":{"x":"independent","y":"independent"}}},
{"width":357,"height":221,"title":{"text":"w*old = 56096.6, w*new = 63518."},
 "layer":[
  {"data":{"name":"r3"},"transform":[{"filter":{"field":"k","equal":"old"}}],"mark":{"type":"rule","strokeWidth":1.2,"color":"#f08c8c","strokeDash":[1.5,4]},
   "encoding":{"x":{"field":"a","type":"quantitative","scale":{"domain":[-5.3,254.6],"nice":false,"zero":false},"axis":{"orient":"top","offset":-221,"values":[0,50,100,150,200,250],"tickSize":6,"labels":false,"title":null}},"x2":{"field":"b"},
    "y":{"field":"v","type":"quantitative","scale":{"domain":[54440,65400],"nice":false,"zero":false},"axis":{"orient":"right","offset":-357,"values":[56000,58000,60000,62000,64000],"tickSize":6,"labels":false,"title":null}}}},
  {"data":{"name":"r3"},"transform":[{"filter":{"field":"k","equal":"new"}}],"mark":{"type":"rule","strokeWidth":1.2,"color":"#7878ee","strokeDash":[7,4]},
   "encoding":{"x":{"field":"a","type":"quantitative","axis":{"orient":"bottom","offset":-221,"values":[0,50,100,150,200,250],"tickSize":6,"labels":false,"title":null}},"x2":{"field":"b"},
    "y":{"field":"v","type":"quantitative","axis":{"orient":"left","offset":-357,"values":[56000,58000,60000,62000,64000],"tickSize":6,"labels":false,"title":null}}}},
  {"data":{"name":"wl"},"mark":{"type":"line","color":"#000000","strokeWidth":1},
   "encoding":{"x":{"field":"t","type":"quantitative","axis":{"orient":"bottom","values":[0,50,100,150,200,250],"ticks":false,"labelPadding":8,"titlePadding":10,"title":"time"}},
    "y":{"field":"v","type":"quantitative","axis":{"orient":"left","values":[56000,58000,60000,62000,64000],"format":"d","ticks":false,"labelPadding":5,"titlePadding":1,"title":"w*"}},
    "detail":{"field":"k"}}},
  {"data":{"name":"r3"},"mark":{"type":"point","filled":true,"size":60,"opacity":1},
   "encoding":{"x":{"field":"a","type":"quantitative","axis":{"orient":"top","offset":-221,"values":[10,20,30,40,60,70,80,90,110,120,130,140,160,170,180,190,210,220,230,240],"tickSize":3,"labels":false,"title":null}},
    "y":{"field":"v","type":"quantitative","axis":{"orient":"right","offset":-357,"values":[54500,55000,55500,56500,57000,57500,58500,59000,59500,60500,61000,61500,62500,63000,63500,64500,65000],"tickSize":3,"labels":false,"title":null}},
    "color":{"condition":{"test":"datum.k=='old'","value":"#e00000"},"value":"#0000f0"}}}
 ],
 "resolve":{"axis":{"x":"independent","y":"independent"}}},
{"width":357,"height":221,"title":{"text":"δ*old = 1.7, δ*new = 1.27"},
 "layer":[
  {"data":{"name":"r4"},"mark":{"type":"rule","strokeWidth":1.2},
   "encoding":{"x":{"field":"a","type":"quantitative","scale":{"domain":[-5.3,254.6],"nice":false,"zero":false},"axis":{"orient":"top","offset":-221,"values":[0,50,100,150,200,250],"tickSize":6,"labels":false,"title":null}},"x2":{"field":"b"},
    "y":{"field":"v","type":"quantitative","scale":{"domain":[0,2.93],"nice":false,"zero":false},"axis":{"orient":"right","offset":-357,"values":[0,0.5,1,1.5,2,2.5],"tickSize":6,"labels":false,"title":null}},
    "color":{"condition":{"test":"datum.k=='old'","value":"#f08c8c"},"value":"#7878ee"},
    "strokeDash":{"condition":{"test":"datum.k=='old'","value":[1.5,4]},"value":[7,4]}}},
  {"data":{"name":"db"},"mark":{"type":"line","color":"#111111","strokeWidth":1.1},
   "encoding":{"x":{"field":"t","type":"quantitative","axis":{"orient":"bottom","values":[0,50,100,150,200,250],"ticks":false,"labelPadding":8,"titlePadding":10,"title":"time"}},
    "y":{"field":"v","type":"quantitative","axis":{"orient":"left","values":[0,0.5,1,1.5,2,2.5],"format":".1f","ticks":false,"labelPadding":5,"titlePadding":7,"title":"duration"}}}},
  {"data":{"name":"do"},"mark":{"type":"line","color":"#0000ff","opacity":0.28,"strokeWidth":4},
   "encoding":{"x":{"field":"t","type":"quantitative","axis":{"orient":"top","offset":-221,"values":[10,20,30,40,60,70,80,90,110,120,130,140,160,170,180,190,210,220,230,240],"tickSize":3,"labels":false,"title":null}},
    "y":{"field":"v","type":"quantitative","axis":{"orient":"right","offset":-357,"values":[0.1,0.2,0.3,0.4,0.6,0.7,0.8,0.9,1.1,1.2,1.3,1.4,1.6,1.7,1.8,1.9,2.1,2.2,2.3,2.4,2.6,2.7,2.8,2.9],"tickSize":3,"labels":false,"title":null}}}},
  {"data":{"name":"r4"},"mark":{"type":"point","filled":true,"size":60,"opacity":1},
   "encoding":{"x":{"field":"a","type":"quantitative","axis":{"orient":"bottom","offset":-221,"values":[0,50,100,150,200,250],"tickSize":6,"labels":false,"title":null}},
    "y":{"field":"v","type":"quantitative","axis":{"orient":"left","offset":-357,"values":[0,0.5,1,1.5,2,2.5],"tickSize":6,"labels":false,"title":null}},
    "color":{"condition":{"test":"datum.k=='old'","value":"#e00000"},"value":"#0000f0"}}}
 ],
 "resolve":{"axis":{"x":"independent","y":"independent"}}}
],
"config":{
 "font":"Liberation Sans",
 "view":{"stroke":"#8c8c8c","strokeWidth":1},
 "axis":{"domain":false,"grid":false,"labelFont":"Liberation Sans","labelFontSize":11.5,"labelColor":"#333333","tickColor":"#666666","tickWidth":1,"tickOpacity":1,"labelPadding":4,"titleFont":"Liberation Sans","titleFontSize":14,"titleFontStyle":"italic","titleFontWeight":"normal","titleColor":"#222222","titlePadding":6},
 "title":{"font":"Liberation Sans","fontSize":14,"fontStyle":"italic","fontWeight":"normal","offset":6,"color":"#111111"}
}
}
